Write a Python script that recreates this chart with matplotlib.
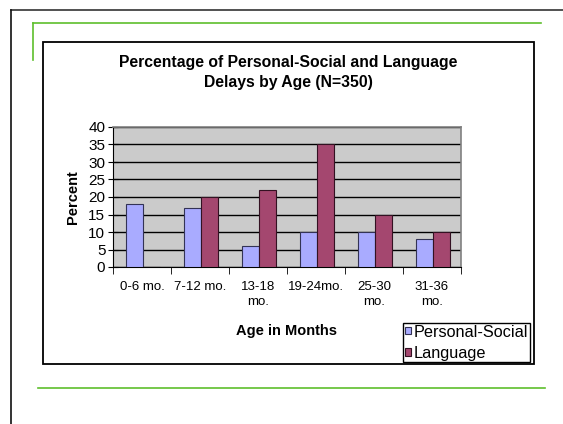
import matplotlib.pyplot as plt
from matplotlib.lines import Line2D
from matplotlib.patches import Rectangle, Patch
import numpy as np

plt.rcParams['font.family'] = ['Liberation Sans', 'DejaVu Sans']

ages = ['0-6 mo.', '7-12 mo.', '13-18\nmo.', '19-24mo.', '25-30\nmo.', '31-36\nmo.']
personal_social = [18, 17, 6, 10, 10, 8]
language = [0, 20, 22, 35, 15, 10]
yticks = [0, 5, 10, 15, 20, 25, 30, 35, 40]

W, H = 563, 424
fig = plt.figure(figsize=(W / 100, H / 100), dpi=100)


def px(x, y):
    # pixel coords (from top-left) -> figure fraction
    return x / W, 1 - y / H


def fig_line(x0, y0, x1, y1, color, lw):
    a, b = px(x0, y0)
    c, d = px(x1, y1)
    fig.add_artist(Line2D([a, c], [b, d], color=color, lw=lw, transform=fig.transFigure))


# slide decorations
fig_line(11, 9.5, 563, 9.5, '#333333', 1.2)
fig_line(11, 9.5, 11, 424, '#111111', 1.2)
green = '#5dbf2c'
fig_line(33, 22.5, 541, 22.5, green, 1.2)
fig_line(33, 22.5, 33, 60, green, 1.2)
fig_line(38, 388, 545, 388, green, 1.2)

left, bottom = px(113, 267)
ax = fig.add_axes([left, bottom, 348 / W, 140 / H])
ax.set_facecolor('#cbcbcb')

x = np.arange(len(ages))
w = 0.29
ax.bar(x - w / 2 + 0.02, personal_social, w, color='#a9abff', edgecolor='#333355', lw=0.8, zorder=3)
ax.bar(x + w / 2 + 0.02, language, w, color='#a4476f', edgecolor='#331122', lw=0.8, zorder=3)

ax.set_xlim(-0.5, len(ages) - 0.5)
ax.set_ylim(0, 40)
ax.set_yticks(yticks)
ax.yaxis.grid(True, color='black', lw=1)
ax.set_axisbelow(True)
ax.tick_params(axis='y', direction='inout', length=7, labelsize=11, pad=2)

ax.set_xticks(x)
ax.set_xticklabels(ages, fontsize=9.5, linespacing=1.35)
ax.set_xticks(np.arange(-0.5, len(ages), 1), minor=True)
ax.tick_params(axis='x', which='major', length=0, pad=10)
ax.tick_params(axis='x', which='minor', length=5, direction='out')

for s in ['top', 'right']:
    ax.spines[s].set_color('#808080')
    ax.spines[s].set_linewidth(1.2)
for s in ['left', 'bottom']:
    ax.spines[s].set_color('black')

ax.set_ylabel('Percent', fontsize=10.5, fontweight='bold', labelpad=6)

tx, ty = px(288, 62)
fig.text(tx, ty, 'Percentage of Personal-Social and Language', ha='center', va='center',
         fontsize=11.3, fontweight='bold')
tx, ty = px(288, 83)
fig.text(tx, ty, 'Delays by Age (N=350)', ha='center', va='center',
         fontsize=11.3, fontweight='bold')
tx, ty = px(287, 331)
fig.text(tx, ty, 'Age in Months', ha='center', va='center', fontsize=10.5, fontweight='bold')

handles = [Patch(facecolor='#a9abff', edgecolor='#333355', lw=0.8, label='Personal-Social'),
           Patch(facecolor='#a4476f', edgecolor='#331122', lw=0.8, label='Language')]
lx, ly = px(403, 323)
leg = fig.legend(handles=handles, loc='upper left', bbox_to_anchor=(lx, ly), fontsize=11.7,
                 frameon=True, fancybox=False, edgecolor='black', framealpha=1,
                 handlelength=0.42, handleheight=0.3, handletextpad=0.15, borderpad=0.1,
                 labelspacing=0.38, borderaxespad=0)
leg.get_frame().set_linewidth(1)
leg.set_zorder(4)

# legend runs past the chart frame in the original; hide the overflow
x0, y0 = px(395, 380)
fig.add_artist(Rectangle((x0, y0), 145 / W, 15.5 / H, transform=fig.transFigure,
                         facecolor='white', edgecolor='none', zorder=5))

# chart frame
x0, y0 = px(43, 364)
fig.add_artist(Rectangle((x0, y0), (534 - 43) / W, (364 - 42) / H, transform=fig.transFigure,
                         fill=False, edgecolor='black', lw=1.3, zorder=6))

fig.savefig('out.png', dpi=100)
